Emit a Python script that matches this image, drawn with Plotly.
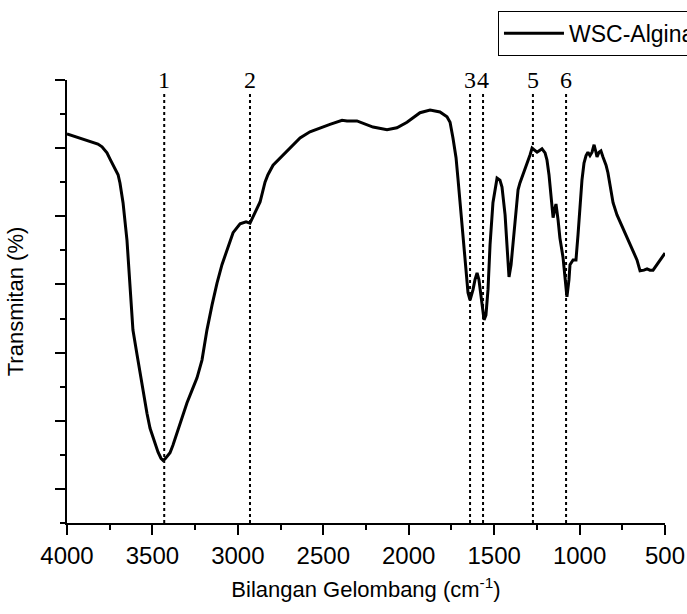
import plotly.graph_objects as go

# FTIR spectrum of WSC-Alginat: wavenumber (cm-1) and transmittance
wavenumber = [
    4000, 3965, 3924, 3883, 3848, 3819, 3795, 3766, 3748, 3731, 3701, 3690,
    3672, 3649, 3631, 3614, 3590, 3573, 3561, 3543, 3532, 3514, 3497, 3479,
    3467, 3450, 3438, 3426, 3415, 3397, 3380, 3356, 3327, 3298, 3268, 3239,
    3210, 3181, 3151, 3122, 3093, 3064, 3028, 2987, 2952, 2929, 2911, 2900,
    2870, 2841, 2824, 2794, 2736, 2695, 2636, 2578, 2519, 2461, 2390, 2361,
    2303, 2256, 2209, 2127, 2069, 2010, 1934, 1875, 1817, 1776, 1758, 1741,
    1723, 1712, 1694, 1682, 1671, 1653, 1641, 1624, 1612, 1600, 1589, 1571,
    1559, 1548, 1536, 1524, 1507, 1483, 1466, 1454, 1436, 1425, 1413, 1401,
    1390, 1378, 1360, 1349, 1331, 1308, 1290, 1278, 1261, 1249, 1232, 1220,
    1202, 1191, 1179, 1167, 1155, 1144, 1138, 1126, 1115, 1097, 1085, 1074,
    1062, 1056, 1038, 1021, 1009, 997, 986, 974, 962, 951, 939, 927,
    915, 904, 898, 886, 875, 863, 845, 834, 804, 781, 763, 728,
    693, 664, 646, 623, 605, 588, 570, 547, 529, 512, 500,
]
transmittance = [
    52.1, 51.8, 51.5, 51.2, 50.8, 50.6, 50.2, 49.3, 48.4, 47.5, 46.1, 44.9,
    42.0, 36.5, 29.2, 23.3, 19.7, 17.0, 15.3, 12.3, 11.1, 8.9, 7.6, 6.2,
    5.4, 4.5, 4.2, 4.4, 4.7, 5.3, 6.4, 8.2, 10.4, 12.6, 14.5, 16.3,
    18.9, 23.3, 27.0, 30.2, 32.9, 35.1, 37.6, 38.9, 39.2, 39.0, 40.0, 40.6,
    42.1, 45.0, 46.1, 47.5, 49.0, 50.0, 51.5, 52.4, 53.0, 53.5, 54.1, 54.0,
    54.0, 53.5, 53.1, 52.7, 53.0, 53.8, 55.2, 55.6, 55.3, 54.6, 53.8, 51.5,
    48.6, 45.6, 40.2, 36.5, 33.6, 28.8, 27.7, 29.2, 30.7, 31.7, 30.7, 26.7,
    24.8, 25.5, 29.2, 35.8, 42.0, 45.6, 45.3, 44.3, 40.2, 35.8, 31.1, 32.9,
    35.8, 39.5, 43.9, 44.9, 46.1, 47.8, 49.0, 50.0, 49.6, 49.4, 49.7, 49.9,
    49.3, 48.3, 46.1, 43.4, 39.8, 41.2, 41.8, 39.5, 36.8, 34.0, 30.7, 28.2,
    30.7, 32.9, 33.6, 33.6, 37.3, 42.4, 45.3, 47.8, 48.9, 49.4, 48.9, 49.4,
    50.5, 49.4, 48.7, 49.4, 49.6, 48.7, 47.5, 46.4, 42.0, 40.2, 39.2, 37.3,
    35.1, 33.6, 32.0, 32.1, 32.3, 32.1, 32.1, 32.9, 33.6, 34.2, 34.6,
]

# Marked absorption bands
peak_labels = ["1", "2", "3", "4", "5", "6"]
peak_positions = [3431, 2929, 1641, 1565, 1273, 1079]

x_tick_vals = [4000, 3500, 3000, 2500, 2000, 1500, 1000, 500]
x_tick_text = [str(v) for v in x_tick_vals]

Y_MIN, Y_MAX = -5, 60
LINE_TOP = 58.2

SANS = "Liberation Sans, Arial, sans-serif"
SERIF = "Liberation Serif, Times New Roman, serif"

fig = go.Figure()

for pos in peak_positions:
    fig.add_trace(go.Scatter(
        x=[pos, pos], y=[Y_MIN, LINE_TOP], mode="lines",
        line=dict(color="black", width=2, dash="dot"),
        showlegend=False, hoverinfo="skip",
    ))

fig.add_trace(go.Scatter(
    x=wavenumber, y=transmittance, mode="lines",
    name="WSC-Alginat",
    line=dict(color="black", width=3),
))

for lab, pos in zip(peak_labels, peak_positions):
    fig.add_annotation(
        x=pos, y=LINE_TOP, yref="y", xref="x", text=lab,
        showarrow=False, yanchor="bottom", yshift=-3,
        font=dict(family=SERIF, size=24, color="black"),
    )

tick_font = dict(family=SANS, size=24, color="black")
title_font = dict(family=SANS, size=22, color="black")

fig.update_layout(
    width=687, height=614,
    margin=dict(l=67, r=22, t=80, b=91, autoexpand=False),
    paper_bgcolor="white", plot_bgcolor="white",
    font=dict(family=SANS, size=18, color="black"),
    showlegend=True,
    legend=dict(
        x=0.7207, y=1.156, xanchor="left", yanchor="top",
        bordercolor="black", borderwidth=1, bgcolor="white",
        font=dict(family=SANS, size=23, color="black"),
        itemwidth=60, tracegroupgap=0,
    ),
    xaxis=dict(
        range=[4000, 500], autorange=False,
        tickvals=x_tick_vals, ticktext=x_tick_text,
        showline=True, linecolor="black", linewidth=1.5,
        ticks="outside", ticklen=10, tickwidth=1.5, tickcolor="black",
        minor=dict(dtick=250, ticks="outside", ticklen=5, tickwidth=1.5,
                   tickcolor="black", showgrid=False),
        showgrid=False, zeroline=False, mirror=False,
        tickfont=tick_font,
        title=dict(text="Bilangan Gelombang (cm<sup>-1</sup>)", font=title_font, standoff=14),
    ),
    yaxis=dict(
        range=[Y_MIN, Y_MAX], autorange=False,
        tick0=0, dtick=10, showticklabels=False,
        showline=True, linecolor="black", linewidth=1.5,
        ticks="outside", ticklen=10, tickwidth=1.5, tickcolor="black",
        minor=dict(dtick=5, ticks="outside", ticklen=5, tickwidth=1.5,
                   tickcolor="black", showgrid=False),
        showgrid=False, zeroline=False,
        title=dict(text="Transmitan (%)", font=title_font, standoff=26),
    ),
)

fig.write_html("out.html")
